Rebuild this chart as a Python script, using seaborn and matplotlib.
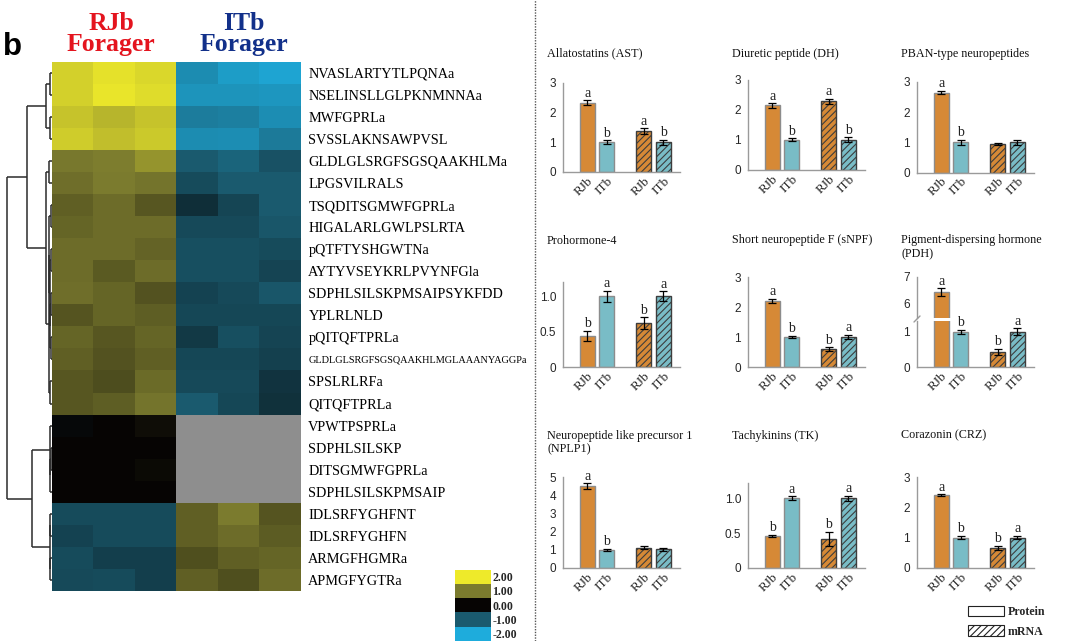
import numpy as np
import pandas as pd
import matplotlib
matplotlib.use("Agg")
import matplotlib.pyplot as plt
import seaborn as sns
from matplotlib.colors import LinearSegmentedColormap
from matplotlib.patches import Patch
from matplotlib.lines import Line2D
from matplotlib.container import BarContainer

# ---------------- data ----------------
peptides = [
    "NVASLARTYTLPQNAa", "NSELINSLLGLPKNMNNAa", "MWFGPRLa", "SVSSLAKNSAWPVSL",
    "GLDLGLSRGFSGSQAAKHLMa", "LPGSVILRALS", "TSQDITSGMWFGPRLa", "HIGALARLGWLPSLRTA",
    "pQTFTYSHGWTNa", "AYTYVSEYKRLPVYNFGla", "SDPHLSILSKPMSAIPSYKFDD", "YPLRLNLD",
    "pQITQFTPRLa", "GLDLGLSRGFSGSQAAKHLMGLAAANYAGGPa", "SPSLRLRFa", "QITQFTPRLa",
    "VPWTPSPRLa", "SDPHLSILSKP", "DITSGMWFGPRLa", "SDPHLSILSKPMSAIP",
    "IDLSRFYGHFNT", "IDLSRFYGHFN", "ARMGFHGMRa", "APMGFYGTRa",
]
nan = np.nan
rjb_z = [
    [1.75, 1.92, 1.82], [1.76, 1.95, 1.86], [1.65, 1.52, 1.65], [1.72, 1.60, 1.70],
    [0.98, 1.02, 1.22], [0.90, 1.00, 0.95], [0.78, 0.88, 0.70], [0.82, 0.88, 0.88],
    [0.88, 0.88, 0.80], [0.88, 0.72, 0.88], [0.90, 0.82, 0.66], [0.68, 0.82, 0.76],
    [0.82, 0.70, 0.82], [0.78, 0.66, 0.78], [0.70, 0.62, 0.86], [0.70, 0.76, 0.95],
    [-0.05, 0.00, 0.08], [0.00, 0.00, 0.00], [0.00, 0.00, 0.05], [0.00, 0.00, 0.00],
    [-0.82, -0.82, -0.82], [-0.72, -0.82, -0.82], [-0.82, -0.68, -0.68], [-0.80, -0.82, -0.68],
]
itb_z = [
    [-1.60, -1.80, -1.90], [-1.70, -1.70, -1.72], [-1.42, -1.45, -1.62], [-1.60, -1.62, -1.38],
    [-1.00, -1.12, -0.90], [-0.82, -1.00, -1.00], [-0.50, -0.76, -1.00], [-0.80, -0.80, -0.95],
    [-0.86, -0.86, -0.82], [-0.86, -0.86, -0.75], [-0.72, -0.80, -0.95], [-0.78, -0.78, -0.78],
    [-0.62, -0.86, -0.75], [-0.78, -0.78, -0.70], [-0.80, -0.80, -0.55], [-1.00, -0.78, -0.52],
    [nan, nan, nan], [nan, nan, nan], [nan, nan, nan], [nan, nan, nan],
    [0.78, 1.00, 0.68], [0.78, 0.88, 0.74], [0.64, 0.78, 0.82], [0.78, 0.64, 0.88],
]
heat_columns = ["RJb-1", "RJb-2", "RJb-3", "ITb-1", "ITb-2", "ITb-3"]
scale_values = [2.0, 1.0, 0.0, -1.0, -2.0]
scale_labels = ["2.00", "1.00", "0.00", "-1.00", "-2.00"]

# row dendrogram: (left, right, height); leaves are row indices
tree = (
    (
        ((0, 1, 2.0), (2, 3, 2.0), 6.3),
        ((4, 5, 3.0),
         (((6, 7, 1.4), ((8, 9, 1.4), ((10, 11, 1.2), (12, 13, 1.2), 1.7), 2.1), 2.6),
          (14, 15, 1.5), 3.4),
         6.3),
        25.0,
    ),
    (
        (16, ((17, 18, 1.0), 19, 1.5), 2.0),
        ((20, 21, 1.5), (22, 23, 1.5), 2.0),
        20.3,
    ),
    45.0,
)

panel_titles = [
    "Allatostatins (AST)", "Diuretic peptide (DH)", "PBAN-type neuropeptides",
    "Prohormone-4", "Short neuropeptide F (sNPF)", "Pigment-dispersing hormone\n(PDH)",
    "Neuropeptide like precursor 1\n(NPLP1)", "Tachykinins (TK)", "Corazonin (CRZ)",
]
protein_rjb = [2.32, 2.14, 2.65, 0.44, 2.20, 6.43, 4.50, 0.46, 2.40]
protein_rjb_se = [0.08, 0.07, 0.05, 0.07, 0.08, 0.15, 0.15, 0.015, 0.03]
protein_itb = [1.00, 1.00, 1.00, 1.00, 1.00, 1.00, 1.00, 1.00, 1.00]
protein_itb_se = [0.06, 0.05, 0.09, 0.08, 0.04, 0.05, 0.05, 0.03, 0.05]
mrna_rjb = [1.36, 2.28, 0.95, 0.62, 0.60, 0.42, 1.12, 0.42, 0.67]
mrna_rjb_se = [0.10, 0.09, 0.04, 0.08, 0.06, 0.09, 0.09, 0.10, 0.07]
mrna_itb = [1.00, 1.00, 1.00, 1.00, 1.00, 1.00, 1.02, 1.00, 1.00]
mrna_itb_se = [0.08, 0.08, 0.08, 0.07, 0.07, 0.10, 0.08, 0.04, 0.05]
letters_protein_rjb = ["a", "a", "a", "b", "a", "a", "a", "b", "a"]
letters_protein_itb = ["b", "b", "b", "a", "b", "b", "b", "a", "b"]
letters_mrna_rjb = ["a", "a", "", "b", "b", "b", "", "b", "b"]
letters_mrna_itb = ["b", "b", "", "a", "a", "a", "", "a", "a"]
y_limits = [3, 3, 3, 1.2, 3, None, 5, 1.22, 3]
y_ticks = [[0, 1, 2, 3], [0, 1, 2, 3], [0, 1, 2, 3], [0, 0.5, 1.0], [0, 1, 2, 3], None,
           [0, 1, 2, 3, 4, 5], [0, 0.5, 1.0], [0, 1, 2, 3]]
y_ticklabels = [["0", "1", "2", "3"], ["0", "1", "2", "3"], ["0", "1", "2", "3"],
                ["0", "0.5", "1.0"], ["0", "1", "2", "3"], None,
                ["0", "1", "2", "3", "4", "5"], ["0", "0.5", "1.0"], ["0", "1", "2", "3"]]
pdh_lower_lim, pdh_upper_lim = (0, 1.31), (5.48, 7.0)
pdh_lower_ticks, pdh_upper_ticks = [0, 1], [6, 7]

assay_order = ["Protein", "mRNA"]
group_order = ["RJb", "ITb"]
legend_labels = ["Protein", "mRNA"]

# ---------------- style ----------------
sns.set_theme(style="white")
SERIF = ["Liberation Serif", "DejaVu Serif"]
SANS = ["Liberation Sans", "DejaVu Sans"]
plt.rcParams["font.family"] = SERIF
plt.rcParams["hatch.linewidth"] = 0.8

ORANGE = "#F08A1C"
BLUE = "#6CC5D3"
EDGE_P = "#8C8C8C"
EDGE_M = "#3D3D3D"
HATCH = "/////"

W, H = 1071, 641
fig = plt.figure(figsize=(W / 100, H / 100), dpi=100)
fig.patch.set_facecolor("white")


def rect(l, t, r, b):
    return [l / W, 1 - b / H, (r - l) / W, (b - t) / H]


# ---------------- heatmap ----------------
cmap = LinearSegmentedColormap.from_list(
    "rjb_itb",
    [(0.0, "#1EACDC"), (0.25, "#1A5A6E"), (0.5, "#050303"), (0.75, "#7A7A2E"), (1.0, "#EEEA2A")],
)
heat_df = pd.DataFrame(np.hstack([np.array(rjb_z), np.array(itb_z)]),
                       index=peptides, columns=heat_columns)
HL, HT, HR, HB = 52, 61.7, 300.7, 591
ax_h = fig.add_axes(rect(HL, HT, HR, HB))
sns.heatmap(heat_df, cmap=cmap, vmin=-2, vmax=2, cbar=False, ax=ax_h,
            xticklabels=False, yticklabels=True)
ax_h.set_facecolor("#8E8E8E")
ax_h.set_xlabel("")
ax_h.set_ylabel("")
ax_h.yaxis.tick_right()
ax_h.set_yticks(np.arange(len(peptides)) + 0.5)
ax_h.set_yticklabels(peptides, rotation=0, fontsize=10.3, family=SERIF, color="black")
ax_h.tick_params(axis="y", length=0, pad=5.5, labelright=True, labelleft=False)
for lab in ax_h.get_yticklabels():
    if len(lab.get_text()) > 24:
        lab.set_fontsize(7.4)

# dendrogram
ax_d = fig.add_axes(rect(3, HT, HL, HB))
ax_d.set_ylim(len(peptides), 0)
ax_d.set_xlim(49, 0)
ax_d.axis("off")


def draw_node(node):
    if isinstance(node, int):
        return node + 0.5, 0.0
    left, right, h = node
    pl, hl = draw_node(left)
    pr, hr = draw_node(right)
    kw = dict(color="#2b2b2b", lw=1.1, solid_capstyle="butt")
    ax_d.plot([h, h], [pl, pr], **kw)
    ax_d.plot([hl, h], [pl, pl], **kw)
    ax_d.plot([hr, h], [pr, pr], **kw)
    return (pl + pr) / 2, h


draw_node(tree)

# headers
for text, cx, col in [("RJb", 111, "#E4141E"), ("ITb", 244, "#12308A")]:
    fig.text(cx / W, 1 - 29.5 / H, text, ha="center", va="baseline", color=col,
             fontsize=18.5, fontweight="bold", family=SERIF)
    fig.text(cx / W, 1 - 51 / H, "Forager", ha="center", va="baseline", color=col,
             fontsize=18.5, fontweight="bold", family=SERIF)
fig.text(3 / W, 1 - 55 / H, "b", ha="left", va="baseline", fontsize=22.5,
         fontweight="bold", family=SANS, color="black")

# colour scale
ax_c = fig.add_axes(rect(455, 569.5, 490.5, 641))
sns.heatmap(pd.DataFrame({"v": scale_values}), cmap=cmap, vmin=-2, vmax=2, cbar=False,
            ax=ax_c, xticklabels=False, yticklabels=scale_labels)
ax_c.set_xlabel("")
ax_c.set_ylabel("")
ax_c.yaxis.tick_right()
ax_c.tick_params(axis="y", length=0, pad=1.5, labelright=True, labelleft=False)
for lab in ax_c.get_yticklabels():
    lab.set_rotation(0)
    lab.set_fontsize(8.6)
    lab.set_fontweight("bold")
    lab.set_family(SERIF)

# dotted separator
fig.add_artist(Line2D([535 / W, 535 / W], [0, 1], transform=fig.transFigure,
                      color="#555555", lw=1.0, linestyle=(0, (1, 1))))

# ---------------- bar panels ----------------
PW = 117
panel_geom = [
    (563, 82.5, 172), (748, 79.5, 170), (917, 82, 172.5),
    (563, 282, 367), (748, 277, 367), (917, 277, 367),
    (563, 477, 568), (748, 483, 568), (917, 477, 568),
]
title_y = [54, 54, 54, 241, 241, 241, 436, 436, 436]


def panel_frame(i):
    return pd.DataFrame({
        "assay": ["Protein", "Protein", "mRNA", "mRNA"],
        "group": ["RJb", "ITb", "RJb", "ITb"],
        "value": [protein_rjb[i], protein_itb[i], mrna_rjb[i], mrna_itb[i]],
        "se": [protein_rjb_se[i], protein_itb_se[i], mrna_rjb_se[i], mrna_itb_se[i]],
        "letter": [letters_protein_rjb[i], letters_protein_itb[i],
                   letters_mrna_rjb[i], letters_mrna_itb[i]],
    })


def draw_bars(ax, i, ylim, xlabels=True):
    df = panel_frame(i)
    sns.barplot(data=df, x="assay", y="value", hue="group", order=assay_order,
                hue_order=group_order, palette={"RJb": ORANGE, "ITb": BLUE},
                width=0.69, gap=0.23, errorbar=None, legend=False, ax=ax, linewidth=1.0)
    ax.set_xlim(-0.6, 1.47)
    ax.set_ylim(*ylim)
    bars = [b for c in list(ax.containers) if isinstance(c, BarContainer) for b in c]
    centers, labs = [], []
    for bar in bars:
        cx = bar.get_x() + bar.get_width() / 2
        xi = int(round(cx))
        hi = 0 if cx < xi else 1
        row = df[(df.assay == assay_order[xi]) & (df.group == group_order[hi])].iloc[0]
        if assay_order[xi] == "mRNA":
            bar.set_edgecolor(EDGE_M)
            bar.set_hatch(HATCH)
        else:
            bar.set_edgecolor(EDGE_P)
        centers.append(cx)
        labs.append(group_order[hi])
        if ylim[0] < row.value <= ylim[1]:
            ax.errorbar(cx, row.value, yerr=row.se, color="black", lw=0.9,
                        capsize=3, capthick=0.9, zorder=5)
            if row.letter:
                ax.annotate(row.letter, (cx, row.value + row.se), xytext=(0, 0.5),
                            textcoords="offset points", ha="center", va="bottom",
                            fontsize=10, family=SERIF, color="#222222")
    order = np.argsort(centers)
    if xlabels:
        ax.set_xticks([centers[k] for k in order])
        ax.set_xticklabels([labs[k] for k in order], rotation=45, ha="right",
                           rotation_mode="anchor", fontsize=9.5, family=SERIF)
    else:
        ax.set_xticks([])
    ax.tick_params(axis="x", length=0, pad=2)
    ax.tick_params(axis="y", length=0, pad=5, labelsize=8.5)
    ax.set_xlabel("")
    ax.set_ylabel("")
    sns.despine(ax=ax)
    for s in ("left", "bottom"):
        ax.spines[s].set_color("#9A9A9A")
        ax.spines[s].set_linewidth(1.0)
    ax.set_facecolor("none")


for i in range(9):
    left, top, bottom = panel_geom[i]
    fig.text((left - 16) / W, 1 - (title_y[i] - 6.5) / H, panel_titles[i], ha="left",
             va="top", fontsize=8.7, family=SERIF, linespacing=1.15, color="#111111")
    if y_limits[i] is None:
        # broken axis (PDH)
        ax_lo = fig.add_axes(rect(left, 321, left + PW, bottom))
        draw_bars(ax_lo, i, pdh_lower_lim)
        ax_lo.set_yticks(pdh_lower_ticks)
        ax_lo.set_yticklabels([str(t) for t in pdh_lower_ticks], family=SANS)
        ax_hi = fig.add_axes(rect(left, top, left + PW, 318))
        draw_bars(ax_hi, i, pdh_upper_lim, xlabels=False)
        ax_hi.set_yticks(pdh_upper_ticks)
        ax_hi.set_yticklabels([str(t) for t in pdh_upper_ticks], family=SANS)
        ax_hi.spines["bottom"].set_visible(False)
        fig.add_artist(Line2D([(left - 3) / W, (left + 3) / W], [1 - 322 / H, 1 - 316 / H],
                              transform=fig.transFigure, color="#9A9A9A", lw=1.0))
    else:
        ax = fig.add_axes(rect(left, top, left + PW, bottom))
        draw_bars(ax, i, (0, y_limits[i]))
        ax.set_yticks(y_ticks[i])
        ax.set_yticklabels(y_ticklabels[i], family=SANS)

# legend
handles = [Patch(facecolor="white", edgecolor="#222222", lw=0.8, label=legend_labels[0]),
           Patch(facecolor="white", edgecolor="#222222", lw=0.8, hatch=HATCH,
                 label=legend_labels[1])]
fig.legend(handles=handles, loc="upper left", bbox_to_anchor=(968 / W, 1 - 606 / H),
           frameon=False, prop=dict(family=SERIF, weight="bold", size=8.6),
           handlelength=3.0, handleheight=0.95, handletextpad=0.35, labelspacing=0.6,
           borderpad=0, borderaxespad=0)

fig.savefig("out.png", dpi=100)
